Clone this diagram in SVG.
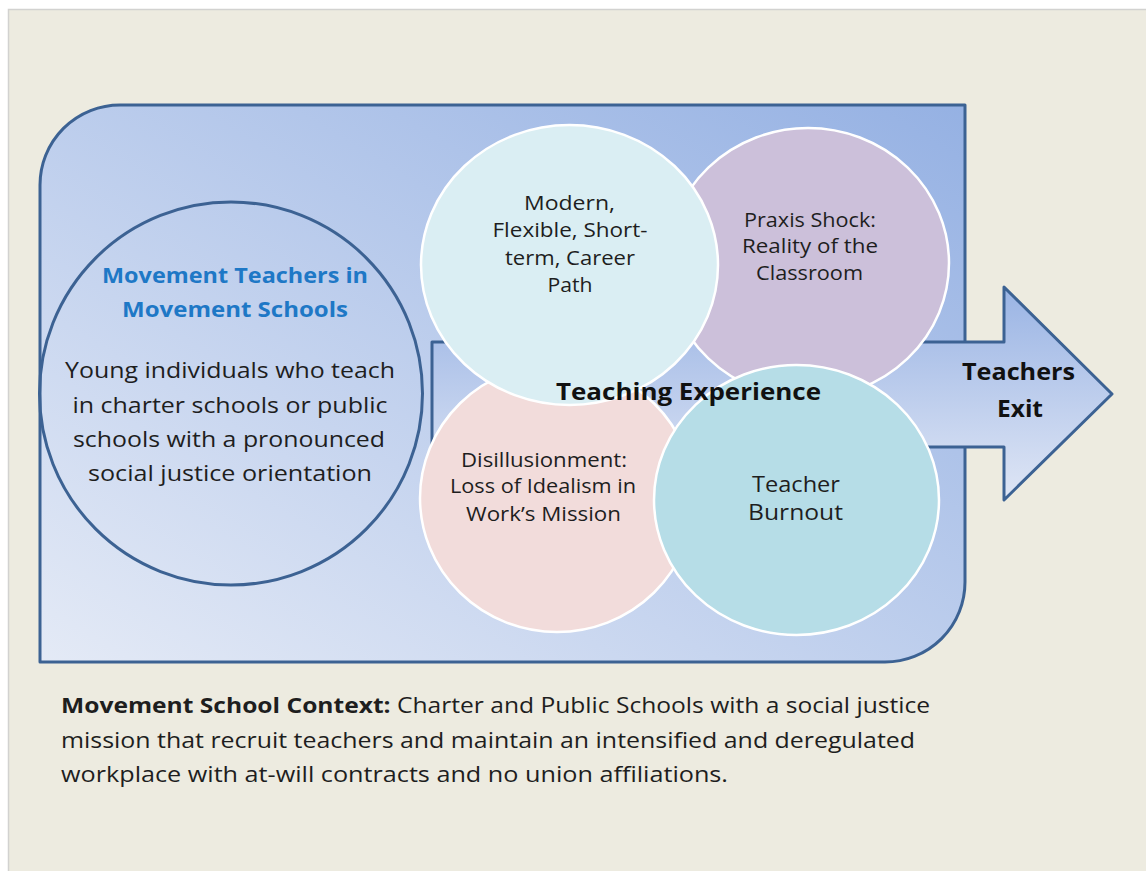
<svg xmlns="http://www.w3.org/2000/svg" width="1146" height="871" viewBox="0 0 1146 871">
  <defs>
    <linearGradient id="boxGrad" x1="0" y1="1" x2="1" y2="0">
      <stop offset="0" stop-color="#E4EAF6"/>
      <stop offset="1" stop-color="#95B1E3"/>
    </linearGradient>
    <linearGradient id="arrowGrad" x1="0" y1="0" x2="0" y2="1">
      <stop offset="0" stop-color="#9AB4E4"/>
      <stop offset="1" stop-color="#DFE6F5"/>
    </linearGradient>
  </defs>
  <style>
    .outline { stroke: #3C6293; stroke-width: 3; stroke-linejoin: round; }
    .venn { stroke: #FFFFFF; stroke-width: 2.5; }
    text { font-family: "Open Sans", "Liberation Sans", sans-serif; }
    .t { fill: #1E1E1E; text-anchor: middle; }
    .b { font-weight: bold; fill: #111111; }
    .title { font-weight: bold; fill: #1E78C6; text-anchor: middle; font-size: 22px; }
    .foot { fill: #1E1E1E; font-size: 21.5px; }
  </style>

  <!-- page background -->
  <rect x="0" y="0" width="1146" height="871" fill="#FFFFFF"/>
  <rect x="8.5" y="9.5" width="1140" height="865" fill="#EDEBE0" stroke="#D2D2D0" stroke-width="1.5"/>

  <!-- context box -->
  <g id="context-box">
    <path class="outline" fill="url(#boxGrad)" d="M40,662 L40,185 A80,80 0 0 1 120,105 L965,105 L965,582 A80,80 0 0 1 885,662 Z"/>
  </g>

  <!-- movement teachers circle -->
  <g id="movement-teachers">
    <circle class="outline" cx="231" cy="393.5" r="191.5" fill="none"/>
    <text class="title" x="235" y="283" textLength="266" lengthAdjust="spacingAndGlyphs">Movement Teachers in</text>
    <text class="title" x="235" y="317" textLength="226" lengthAdjust="spacingAndGlyphs">Movement Schools</text>
    <text class="t" font-size="22" x="230" y="378" textLength="330" lengthAdjust="spacingAndGlyphs">Young individuals who teach</text>
    <text class="t" font-size="22" x="230" y="413" textLength="315" lengthAdjust="spacingAndGlyphs">in charter schools or public</text>
    <text class="t" font-size="22" x="229" y="447" textLength="312" lengthAdjust="spacingAndGlyphs">schools with a pronounced</text>
    <text class="t" font-size="22" x="230" y="481" textLength="284" lengthAdjust="spacingAndGlyphs">social justice orientation</text>
  </g>

  <!-- teaching experience arrow -->
  <g id="teaching-experience-arrow">
    <path class="outline" fill="url(#arrowGrad)" d="M432,342 L1004,342 L1004,287 L1112,394 L1004,500 L1004,447 L432,447 Z"/>
  </g>

  <!-- venn circles -->
  <g id="praxis-shock">
    <ellipse class="venn" cx="808" cy="263" rx="141" ry="135" fill="#CCC0DA"/>
    <text class="t" font-size="19.5" x="810" y="227" textLength="132" lengthAdjust="spacingAndGlyphs">Praxis Shock:</text>
    <text class="t" font-size="19.5" x="810" y="253" textLength="136" lengthAdjust="spacingAndGlyphs">Reality of the</text>
    <text class="t" font-size="19.5" x="809.5" y="280" textLength="107" lengthAdjust="spacingAndGlyphs">Classroom</text>
  </g>
  <g id="disillusionment">
    <ellipse class="venn" cx="557" cy="498" rx="137" ry="134" fill="#F2DCDB"/>
    <text class="t" font-size="19.5" x="544" y="467" textLength="166" lengthAdjust="spacingAndGlyphs">Disillusionment:</text>
    <text class="t" font-size="19.5" x="543" y="493" textLength="186" lengthAdjust="spacingAndGlyphs">Loss of Idealism in</text>
    <text class="t" font-size="19.5" x="543.5" y="521" textLength="155" lengthAdjust="spacingAndGlyphs">Work’s Mission</text>
  </g>
  <g id="modern-career">
    <ellipse class="venn" cx="569.5" cy="265" rx="148.5" ry="140" fill="#DAEEF3"/>
    <text class="t" font-size="20" x="569.5" y="210" textLength="91" lengthAdjust="spacingAndGlyphs">Modern,</text>
    <text class="t" font-size="20" x="570" y="237" textLength="155" lengthAdjust="spacingAndGlyphs">Flexible, Short-</text>
    <text class="t" font-size="20" x="570" y="265" textLength="130" lengthAdjust="spacingAndGlyphs">term, Career</text>
    <text class="t" font-size="20" x="570" y="292" textLength="45" lengthAdjust="spacingAndGlyphs">Path</text>
  </g>
  <g id="teacher-burnout">
    <ellipse class="venn" cx="796.5" cy="500" rx="142.5" ry="135" fill="#B6DDE7"/>
    <text class="t" font-size="22" x="796" y="492" textLength="88" lengthAdjust="spacingAndGlyphs">Teacher</text>
    <text class="t" font-size="22" x="795.5" y="520" textLength="95" lengthAdjust="spacingAndGlyphs">Burnout</text>
  </g>

  <!-- arrow labels -->
  <g id="labels">
    <text class="t b" font-size="23" x="688.5" y="400" textLength="265" lengthAdjust="spacingAndGlyphs">Teaching Experience</text>
    <text class="t b" font-size="23" x="1018.5" y="380" textLength="113" lengthAdjust="spacingAndGlyphs">Teachers</text>
    <text class="t b" font-size="23" x="1020" y="417" textLength="46" lengthAdjust="spacingAndGlyphs">Exit</text>
  </g>

  <g id="connectors"></g>

  <!-- footnote -->
  <g id="context-caption">
    <text class="foot" x="61" y="713" textLength="869" lengthAdjust="spacingAndGlyphs"><tspan font-weight="bold">Movement School Context:</tspan> Charter and Public Schools with a social justice</text>
    <text class="foot" x="61" y="748" textLength="854" lengthAdjust="spacingAndGlyphs">mission that recruit teachers and maintain an intensified and deregulated</text>
    <text class="foot" x="61" y="782" textLength="667" lengthAdjust="spacingAndGlyphs">workplace with at-will contracts and no union affiliations.</text>
  </g>
</svg>
